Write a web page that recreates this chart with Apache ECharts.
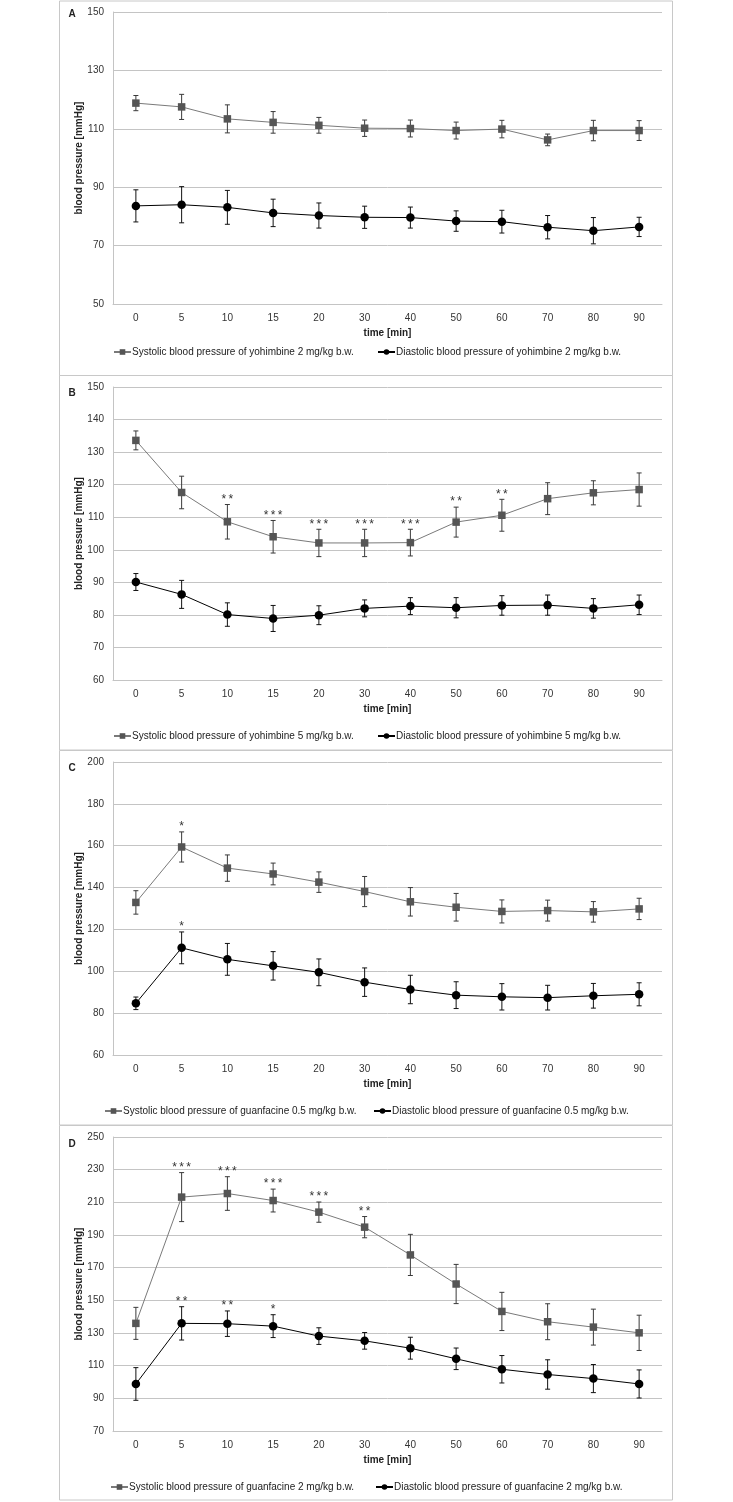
<!DOCTYPE html>
<html>
<head>
<meta charset="utf-8">
<script src="https://cdn.jsdelivr.net/npm/echarts@6/dist/echarts.min.js"></script>
<style>
html,body{margin:0;padding:0;background:#fff;}
#chart{width:733px;height:1502px;}
</style>
</head>
<body>
<div id="chart"></div>
<script>
// ---------- data ----------
const categories = ['0','5','10','15','20','30','40','50','60','70','80','90'];

const sysA    = [118.8,117.5,113.4,112.2,111.2,110.2,110.1,109.4,109.9,106.2,109.4,109.4];
const sysAErr = [2.6,4.3,4.8,3.7,2.7,2.8,2.9,2.9,3.0,2.0,3.5,3.4];
const diaA    = [83.6,84.0,83.1,81.2,80.3,79.7,79.6,78.4,78.2,76.3,75.1,76.4];
const diaAErr = [5.5,6.2,5.8,4.7,4.3,3.8,3.6,3.5,3.9,4.0,4.5,3.3];
const starsSysA = ['','','','','','','','','','','',''];
const starsDiaA = ['','','','','','','','','','','',''];

const sysB    = [133.6,117.6,108.6,104.0,102.1,102.1,102.2,108.5,110.6,115.7,117.5,118.5];
const sysBErr = [2.9,5.0,5.3,5.0,4.2,4.2,4.1,4.6,4.9,4.9,3.7,5.1];
const diaB    = [90.1,86.3,80.1,78.9,79.9,82.0,82.7,82.2,82.9,83.0,82.0,83.1];
const diaBErr = [2.6,4.3,3.6,4.0,2.9,2.6,2.6,3.1,3.0,3.1,3.0,3.0];
const starsSysB = ['','','**','***','***','***','***','**','**','','',''];
const starsDiaB = ['','','','','','','','','','','',''];

const sysC    = [132.9,159.4,149.3,146.5,142.6,138.1,133.2,130.6,128.6,129.0,128.4,129.8];
const sysCErr = [5.6,7.2,6.3,5.2,4.9,7.2,6.8,6.6,5.5,5.0,4.9,5.1];
const diaC    = [84.7,111.2,105.7,102.6,99.5,94.8,91.3,88.6,87.8,87.4,88.3,89.0];
const diaCErr = [3.0,7.6,7.6,6.8,6.4,6.8,6.8,6.4,6.3,5.9,5.9,5.5];
const starsSysC = ['','*','','','','','','','','','',''];
const starsDiaC = ['','*','','','','','','','','','',''];

const sysD    = [135.9,213.2,215.4,211.1,204.0,194.8,177.8,160.0,143.2,136.9,133.6,130.1];
const sysDErr = [9.8,15.0,10.3,7.0,6.2,6.5,12.6,12.0,11.7,11.0,11.0,10.8];
const diaD    = [98.8,135.9,135.7,134.2,128.1,125.2,120.7,114.2,107.8,104.6,102.1,98.8];
const diaDErr = [10.0,10.2,7.8,7.0,5.1,5.1,6.7,6.6,8.4,9.0,8.6,8.6];
const starsSysD = ['','***','***','***','***','**','','','','','',''];
const starsDiaD = ['','**','**','*','','','','','','','',''];

const panelLetters = ['A','B','C','D'];
const sysNames = [
  'Systolic blood pressure of yohimbine 2 mg/kg b.w.',
  'Systolic blood pressure of yohimbine 5 mg/kg b.w.',
  'Systolic blood pressure of guanfacine 0.5 mg/kg b.w.',
  'Systolic blood pressure of guanfacine 2 mg/kg b.w.'
];
const diaNames = [
  'Diastolic blood pressure of yohimbine 2 mg/kg b.w.',
  'Diastolic blood pressure of yohimbine 5 mg/kg b.w.',
  'Diastolic blood pressure of guanfacine 0.5 mg/kg b.w.',
  'Diastolic blood pressure of guanfacine 2 mg/kg b.w.'
];
const yMins = [50, 60, 60, 70];
const yMaxs = [150, 150, 200, 250];
const yIntervals = [20, 10, 20, 20];
const yAxisName = 'blood pressure [mmHg]';
const xAxisName = 'time [min]';

// ---------- layout ----------
const FONT = '"Liberation Sans", Arial, sans-serif';
const panelTops = [1, 375.5, 750.5, 1125.5];
const gridTops = [12, 387, 762, 1137];
const gridHeights = [292, 293, 293, 294];
const legendTops = [346, 730, 1105, 1481];
const legendSysLeft = [113, 113, 104, 110];
const legendDiaLeft = [377, 377, 373, 375];
const letterY = [14.5, 393, 768, 1144];

const sysData = [sysA, sysB, sysC, sysD];
const sysErr = [sysAErr, sysBErr, sysCErr, sysDErr];
const diaData = [diaA, diaB, diaC, diaD];
const diaErr = [diaAErr, diaBErr, diaCErr, diaDErr];
const sysStars = [starsSysA, starsSysB, starsSysC, starsSysD];
const diaStars = [starsDiaA, starsDiaB, starsDiaC, starsDiaD];

const SYS_COLOR = '#555555';
const SYS_LINE = '#7a7a7a';
const DIA_COLOR = '#000000';
const GRID_COLOR = '#c4c4c4';

function errRender(params, api) {
  const x = api.value(0);
  const lo = api.coord([x, api.value(1)]);
  const hi = api.coord([x, api.value(2)]);
  const w = 2.5;
  const st = {stroke: api.visual('color'), lineWidth: 1};
  return {type: 'group', children: [
    {type: 'line', shape: {x1: lo[0], y1: lo[1], x2: hi[0], y2: hi[1]}, style: st},
    {type: 'line', shape: {x1: lo[0]-w, y1: lo[1], x2: lo[0]+w, y2: lo[1]}, style: st},
    {type: 'line', shape: {x1: hi[0]-w, y1: hi[1], x2: hi[0]+w, y2: hi[1]}, style: st}
  ]};
}

function starRender(labels) {
  return function(params, api) {
    const lab = labels[params.dataIndex];
    if (!lab) return null;
    const p = api.coord([api.value(0), api.value(1)]);
    return {type: 'text', x: p[0], y: p[1] + 1, style: {
      text: lab.split('').join('\u2009'), align: 'center', verticalAlign: 'bottom',
      font: '12px ' + FONT, fill: '#333333'
    }};
  };
}

const grids = [], xAxes = [], yAxes = [], series = [], legends = [], graphics = [];

for (let k = 0; k < 4; k++) {
  grids.push({left: 113, right: 71, top: gridTops[k], height: gridHeights[k]});
  xAxes.push({
    type: 'category', gridIndex: k, data: categories, boundaryGap: true,
    name: xAxisName, nameLocation: 'middle', nameGap: 24, nameMoveOverlap: false,
    nameTextStyle: {fontFamily: FONT, fontSize: 10, fontWeight: 'bold', color: '#222'},
    axisLine: {lineStyle: {color: GRID_COLOR}}, axisTick: {show: false},
    axisLabel: {fontFamily: FONT, fontSize: 10, color: '#333', margin: 9}
  });
  yAxes.push({
    type: 'value', gridIndex: k, min: yMins[k], max: yMaxs[k], interval: yIntervals[k],
    name: yAxisName, nameLocation: 'middle', nameGap: 29, nameMoveOverlap: false,
    nameTextStyle: {fontFamily: FONT, fontSize: 10, fontWeight: 'bold', color: '#222'},
    axisLine: {show: true, lineStyle: {color: GRID_COLOR}}, axisTick: {show: false},
    splitLine: {lineStyle: {color: GRID_COLOR}},
    axisLabel: {fontFamily: FONT, fontSize: 10, color: '#333', margin: 9}
  });

  const groups = [
    {name: sysNames[k], vals: sysData[k], errs: sysErr[k], stars: sysStars[k], color: SYS_COLOR, line: SYS_LINE, symbol: 'rect', size: 7.5, z: 5},
    {name: diaNames[k], vals: diaData[k], errs: diaErr[k], stars: diaStars[k], color: DIA_COLOR, line: DIA_COLOR, symbol: 'circle', size: 8.5, z: 6}
  ];
  groups.forEach(g => {
    series.push({
      type: 'custom', xAxisIndex: k, yAxisIndex: k, renderItem: errRender,
      itemStyle: {color: g.color === DIA_COLOR ? '#111' : '#3a3a3a'}, silent: true, z: 3,
      data: g.vals.map((v, i) => [i, v - g.errs[i], v + g.errs[i]])
    });
    series.push({
      name: g.name, type: 'line', xAxisIndex: k, yAxisIndex: k, data: g.vals,
      symbol: g.symbol, symbolSize: g.size, showSymbol: true,
      lineStyle: {color: g.line, width: 1}, itemStyle: {color: g.color},
      z: g.z, animation: false
    });
    series.push({
      type: 'custom', xAxisIndex: k, yAxisIndex: k, renderItem: starRender(g.stars),
      silent: true, z: 7,
      data: g.vals.map((v, i) => [i, v + g.errs[i]])
    });
  });

  const legendCommon = {
    top: legendTops[k] + 1, itemWidth: 17, itemHeight: 7, itemGap: 0, padding: 0,
    textStyle: {fontFamily: FONT, fontSize: 10, color: '#222', padding: [0, 0, 0, -4]},
    selectedMode: false
  };
  legends.push(Object.assign({data: [sysNames[k]], left: legendSysLeft[k]}, legendCommon));
  legends.push(Object.assign({data: [diaNames[k]], left: legendDiaLeft[k]}, legendCommon));

  graphics.push({
    type: 'rect', shape: {x: 59.5, y: panelTops[k], width: 613, height: 374.5},
    style: {fill: 'none', stroke: '#c8c8c8', lineWidth: 1}, silent: true, z: -1
  });
  graphics.push({
    type: 'text', x: 72, y: letterY[k],
    style: {text: panelLetters[k], font: 'bold 10px ' + FONT, fill: '#222', align: 'center', verticalAlign: 'middle'},
    silent: true
  });
}

const chart = echarts.init(document.getElementById('chart'), null, {renderer: 'canvas'});
chart.setOption({
  animation: false,
  backgroundColor: '#ffffff',
  grid: grids, xAxis: xAxes, yAxis: yAxes, series: series, legend: legends,
  graphic: graphics
});
</script>
</body>
</html>
